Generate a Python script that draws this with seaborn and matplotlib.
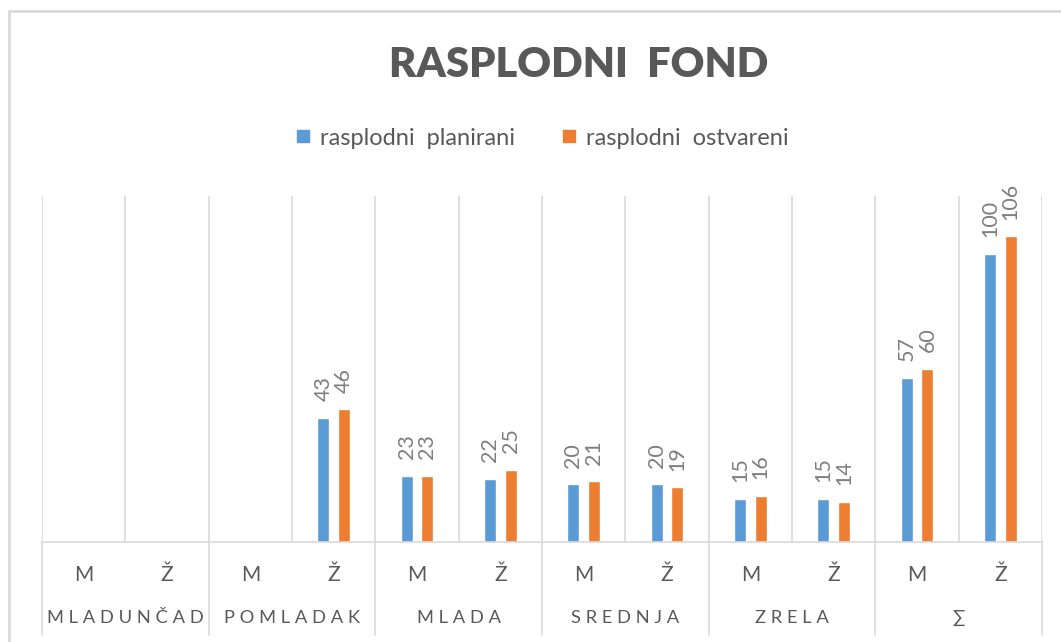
import matplotlib
matplotlib.use("Agg")
import matplotlib.pyplot as plt
import matplotlib.transforms as mtransforms
from matplotlib.patches import Rectangle
import numpy as np
import pandas as pd
import seaborn as sns

# Data
grupe = ["MLADUNČAD", "POMLADAK", "MLADA", "SREDNJA", "ZRELA", "∑"]
spol = ["M", "Ž"]
serije = ["rasplodni  planirani", "rasplodni  ostvareni"]
planirani = [np.nan, np.nan, np.nan, 43, 23, 22, 20, 20, 15, 15, 57, 100]
ostvareni = [np.nan, np.nan, np.nan, 46, 23, 25, 21, 19, 16, 14, 60, 106]

kljucevi = [f"{g}|{s}" for g in grupe for s in spol]
df = pd.DataFrame({
    "kat": kljucevi * 2,
    "serija": [serije[0]] * len(kljucevi) + [serije[1]] * len(kljucevi),
    "vrijednost": planirani + ostvareni,
})

boje = ["#5B9BD5", "#ED7D31"]
siva_mreza = "#D9D9D9"
siva_tekst = "#595959"

sns.set_theme(style="white")
plt.rcParams["font.family"] = ["Lato", "DejaVu Sans"]

fig = plt.figure(figsize=(10.61, 6.42), dpi=100)
ax = fig.add_axes([42 / 1061, 1 - 542 / 642, 1000 / 1061, 346 / 642])

sns.barplot(data=df, x="kat", y="vrijednost", hue="serija", order=kljucevi,
            hue_order=serije, palette=boje, width=0.5, gap=0.42,
            saturation=1, ax=ax, legend=False)

n = len(kljucevi)
ax.set_xlim(-0.5, n - 0.5)
ax.set_ylim(0, 120)
ax.set_xlabel("")
ax.set_ylabel("")
ax.set_xticks([])
ax.set_yticks([])
for s in ["top", "left", "right"]:
    ax.spines[s].set_visible(False)
ax.spines["bottom"].set_color(siva_mreza)
ax.spines["bottom"].set_linewidth(1.2)

# vertical gridlines between categories
ax.vlines(np.arange(n + 1) - 0.5, 0, 120, color=siva_mreza, lw=1.2, zorder=0)

# value labels
for cont in ax.containers:
    ax.bar_label(cont, fmt="%g", padding=12, rotation=90, fontsize=15.5,
                 color="#7F7F7F")

# two-level category labels
trans = mtransforms.blended_transform_factory(ax.transData, ax.transAxes)
for i, k in enumerate(kljucevi):
    ax.text(i, -0.095, k.split("|")[1], transform=trans, ha="center",
            va="center", fontsize=15, color=siva_tekst)
for j, g in enumerate(grupe):
    ax.text(2 * j + 0.5, -0.22, " ".join(g), transform=trans, ha="center",
            va="center", fontsize=13.2, color=siva_tekst)
for x in np.arange(0, n + 1, 2) - 0.5:
    ax.plot([x, x], [0, -0.27], transform=trans, color=siva_mreza, lw=1.2,
            clip_on=False)

# title and legend
fig.text(0.545, 0.899, "RASPLODNI  FOND", ha="center", va="center",
         fontsize=30, fontweight="heavy", color=siva_tekst)
ruke = [plt.Line2D([], [], marker="s", ls="", markersize=9, color=b) for b in boje]
fig.legend(ruke, serije, loc="center", bbox_to_anchor=(0.511, 0.785), ncol=2,
           frameon=False, fontsize=17, labelcolor=siva_tekst, handlelength=0.6,
           handletextpad=0.4, columnspacing=2.0)

# chart border
fig.patches.append(Rectangle((9 / 1061, -0.1), 1.2, 1.1 - 11 / 642,
                             transform=fig.transFigure, fill=False,
                             edgecolor=siva_mreza, lw=2))

fig.savefig("out.png", dpi=100)
